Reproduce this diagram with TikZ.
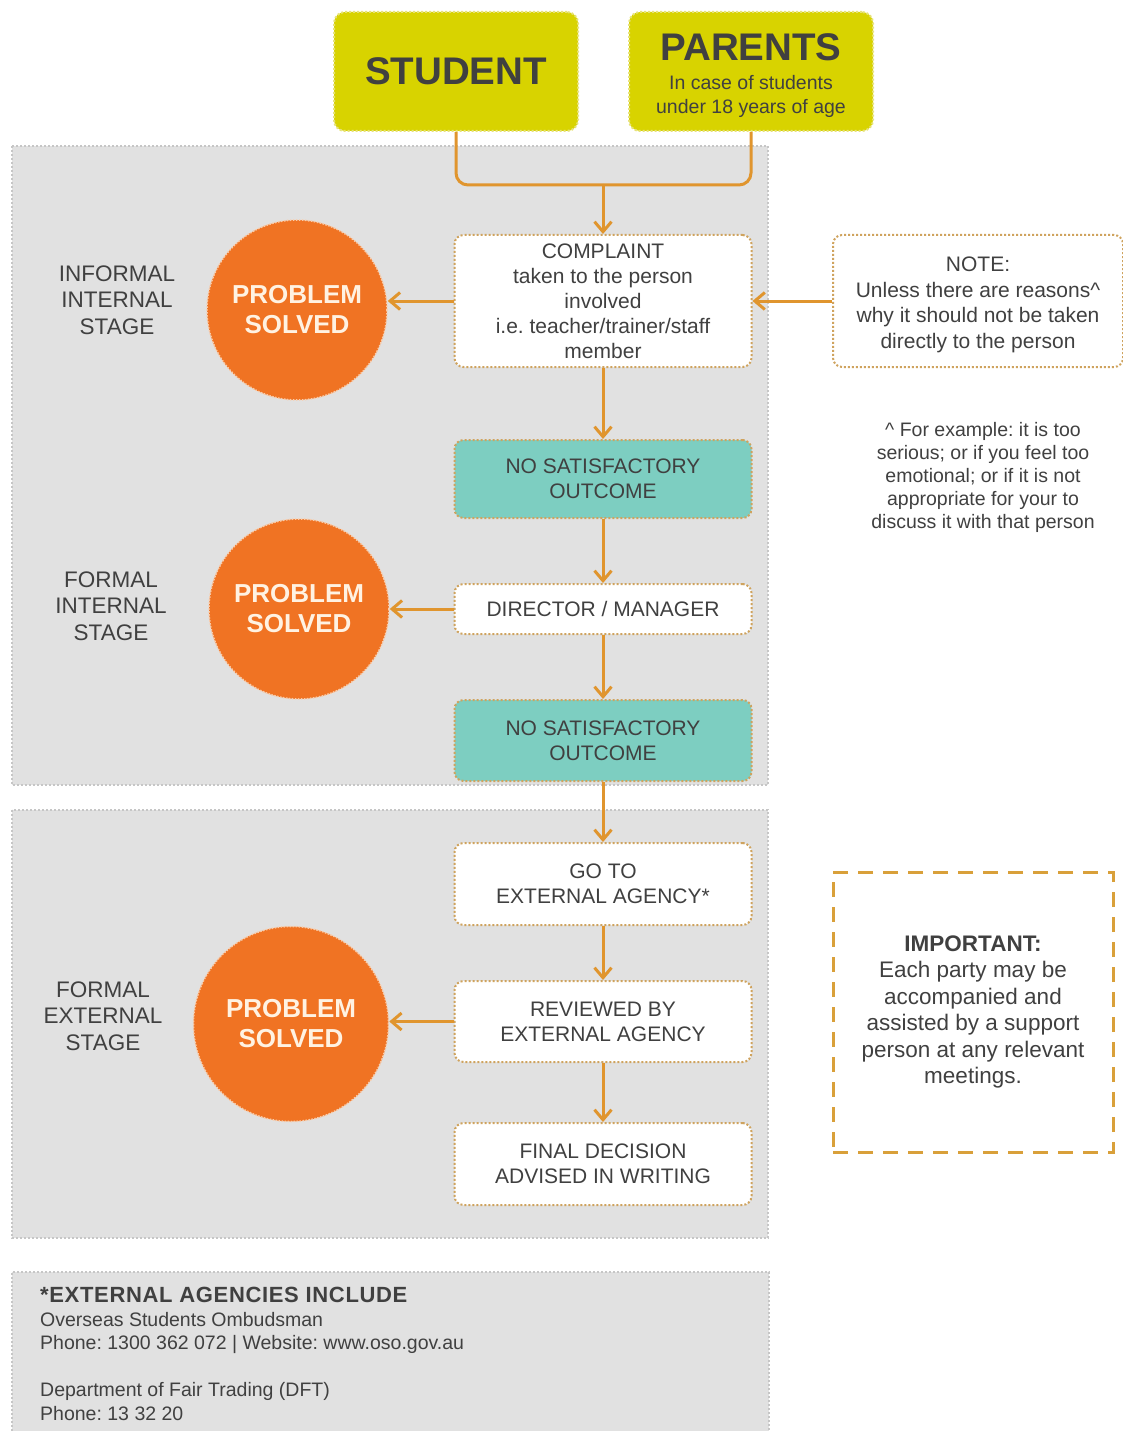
\documentclass[tikz,border=0pt]{standalone}
\usepackage{fontspec}
\setmainfont{Liberation Sans}
\usetikzlibrary{arrows.meta}
\frenchspacing
\definecolor{panelgray}{HTML}{E1E1E1}
\definecolor{panelborder}{HTML}{C6C6C6}
\definecolor{arrowor}{HTML}{E0952E}
\definecolor{dotbrd}{HTML}{CFA35E}
\definecolor{yel}{HTML}{D8D300}
\definecolor{yelbrd}{HTML}{E6E27A}
\definecolor{tealc}{HTML}{7DCEC1}
\definecolor{circor}{HTML}{F07323}
\definecolor{circtext}{HTML}{FFF2E2}
\definecolor{txt}{HTML}{404040}
\definecolor{dashor}{HTML}{D9A03A}
\begin{document}
\begin{tikzpicture}[x=1pt,y=-1pt,
  flowbox/.style={draw=dotbrd, line width=2pt, dash pattern=on 2pt off 2pt, rounded corners=9pt, fill=white, minimum width=297pt, align=center, text=txt, font=\fontsize{21}{25}\selectfont, inner sep=2pt},
  tealbox/.style={flowbox, fill=tealc},
  personbox/.style={draw=yelbrd, line width=2pt, dash pattern=on 2pt off 2pt, rounded corners=11pt, fill=yel, minimum width=244pt, minimum height=119pt, align=center, text=txt},
  solved/.style={circle, fill=circor, draw=circtext!70!circor, line width=1.5pt, dash pattern=on 1.5pt off 1.5pt, text=circtext, align=center, font=\fontsize{26}{30}\selectfont\bfseries, inner sep=0pt},
  stage/.style={align=center, text=txt, font=\fontsize{22.5}{26.5}\selectfont},
  flow/.style={draw=arrowor, line width=3pt, -{Straight Barb[length=10pt,width=17pt]}},
  flowline/.style={draw=arrowor, line width=3pt},
  panel/.style={fill=panelgray, draw=panelborder, line width=2pt, dash pattern=on 2pt off 2pt}
]
\useasboundingbox (0,0) rectangle (1123,1431);
% panels
\filldraw[panel] (12,146) rectangle (768,785);
\filldraw[panel] (12,810) rectangle (768,1238);
\fill[panelgray] (12,1272) rectangle (769,1431);
\draw[panelborder, line width=2pt, dash pattern=on 2pt off 2pt] (12,1431) -- (12,1272) -- (769,1272) -- (769,1431);

% top persons
\node[personbox, font=\fontsize{38.5}{40}\selectfont\bfseries] (student) at (456,71.5) {STUDENT};
\node[personbox, font=\fontsize{19.5}{24}\selectfont] (parents) at (751,71.5)
  {\rule{0pt}{36pt}{\fontsize{38.5}{34}\selectfont\bfseries PARENTS}\\[5pt]In case of students\\under 18 years of age};

% flow boxes
\node[flowbox, minimum height=132pt] (complaint) at (603,301)
  {COMPLAINT\\taken to the person\\involved\\i.e. teacher/trainer/staff\\member};
\node[tealbox, minimum height=78pt] (nso1) at (603,479) {NO SATISFACTORY\\OUTCOME};
\node[flowbox, minimum height=50pt] (director) at (603,609) {DIRECTOR / MANAGER};
\node[tealbox, minimum height=81pt] (nso2) at (603,740.5) {NO SATISFACTORY\\OUTCOME};
\node[flowbox, minimum height=82pt] (goto) at (603,884) {GO TO\\EXTERNAL AGENCY*};
\node[flowbox, minimum height=81pt] (reviewed) at (603,1021.5) {REVIEWED BY\\EXTERNAL AGENCY};
\node[flowbox, minimum height=82pt] (final) at (603,1164) {FINAL DECISION\\ADVISED IN WRITING};

% circles
\node[solved, minimum size=180pt] (circ1) at (297,310) {PROBLEM\\SOLVED};
\node[solved, minimum size=180pt] (circ2) at (299,609) {PROBLEM\\SOLVED};
\node[solved, minimum size=195pt] (circ3) at (291,1024) {PROBLEM\\SOLVED};

% stage labels
\node[stage] (stage1) at (117,300) {INFORMAL\\INTERNAL\\STAGE};
\node[stage] (stage2) at (111,606) {FORMAL\\INTERNAL\\STAGE};
\node[stage] (stage3) at (103,1016) {FORMAL\\EXTERNAL\\STAGE};

% note boxes
\node[flowbox, minimum width=290pt, minimum height=132pt, font=\fontsize{21}{25.5}\selectfont] (note) at (978,301)
  {\rule{0pt}{22pt}NOTE:\\Unless there are reasons\textasciicircum\\why it should not be taken\\directly to the person};
\node[align=center, text=txt, font=\fontsize{19.5}{23}\selectfont] (footnote) at (983,477)
  {\textasciicircum\ For example: it is too\\serious; or if you feel too\\emotional; or if it is not\\appropriate for your to\\discuss it with that person};
\node[draw=dashor, line width=3pt, dash pattern=on 15pt off 10pt, minimum width=280pt, minimum height=280pt, align=center, text=txt, font=\fontsize{22.5}{26.5}\selectfont] (important) at (973,1012)
  {\textbf{IMPORTANT:}\\Each party may be\\accompanied and\\assisted by a support\\person at any relevant\\meetings.};

% agencies
\node[anchor=north west, inner sep=0pt, align=left, text=txt, font=\fontsize{19.5}{23.5}\selectfont] (agencies) at (40,1287)
  {{\fontsize{22}{23.5}\selectfont\bfseries\addfontfeature{LetterSpace=3} *EXTERNAL AGENCIES INCLUDE}\\Overseas Students Ombudsman\\Phone: 1300 362 072 | Website: www.oso.gov.au\\\mbox{}\\Department of Fair Trading (DFT)\\Phone: 13 32 20};

% connectors
\coordinate (merge) at (603,185);
\draw[flowline, rounded corners=12pt] (student.south) |- (merge);
\draw[flowline, rounded corners=12pt] (parents.south) |- (merge);
\draw[flow] (merge) -- (complaint.north);
\draw[flow] (complaint.west) -- (complaint.west -| circ1.east);
\draw[flow] (note.west) -- (complaint.east);
\draw[flow] (complaint.south) -- (nso1.north);
\draw[flow] (nso1.south) -- (director.north);
\draw[flow] (director.west) -- (director.west -| circ2.east);
\draw[flow] (director.south) -- (nso2.north);
\draw[flow] (nso2.south) -- (goto.north);
\draw[flow] (goto.south) -- (reviewed.north);
\draw[flow] (reviewed.west) -- (reviewed.west -| circ3.east);
\draw[flow] (reviewed.south) -- (final.north);
\end{tikzpicture}
\end{document}
